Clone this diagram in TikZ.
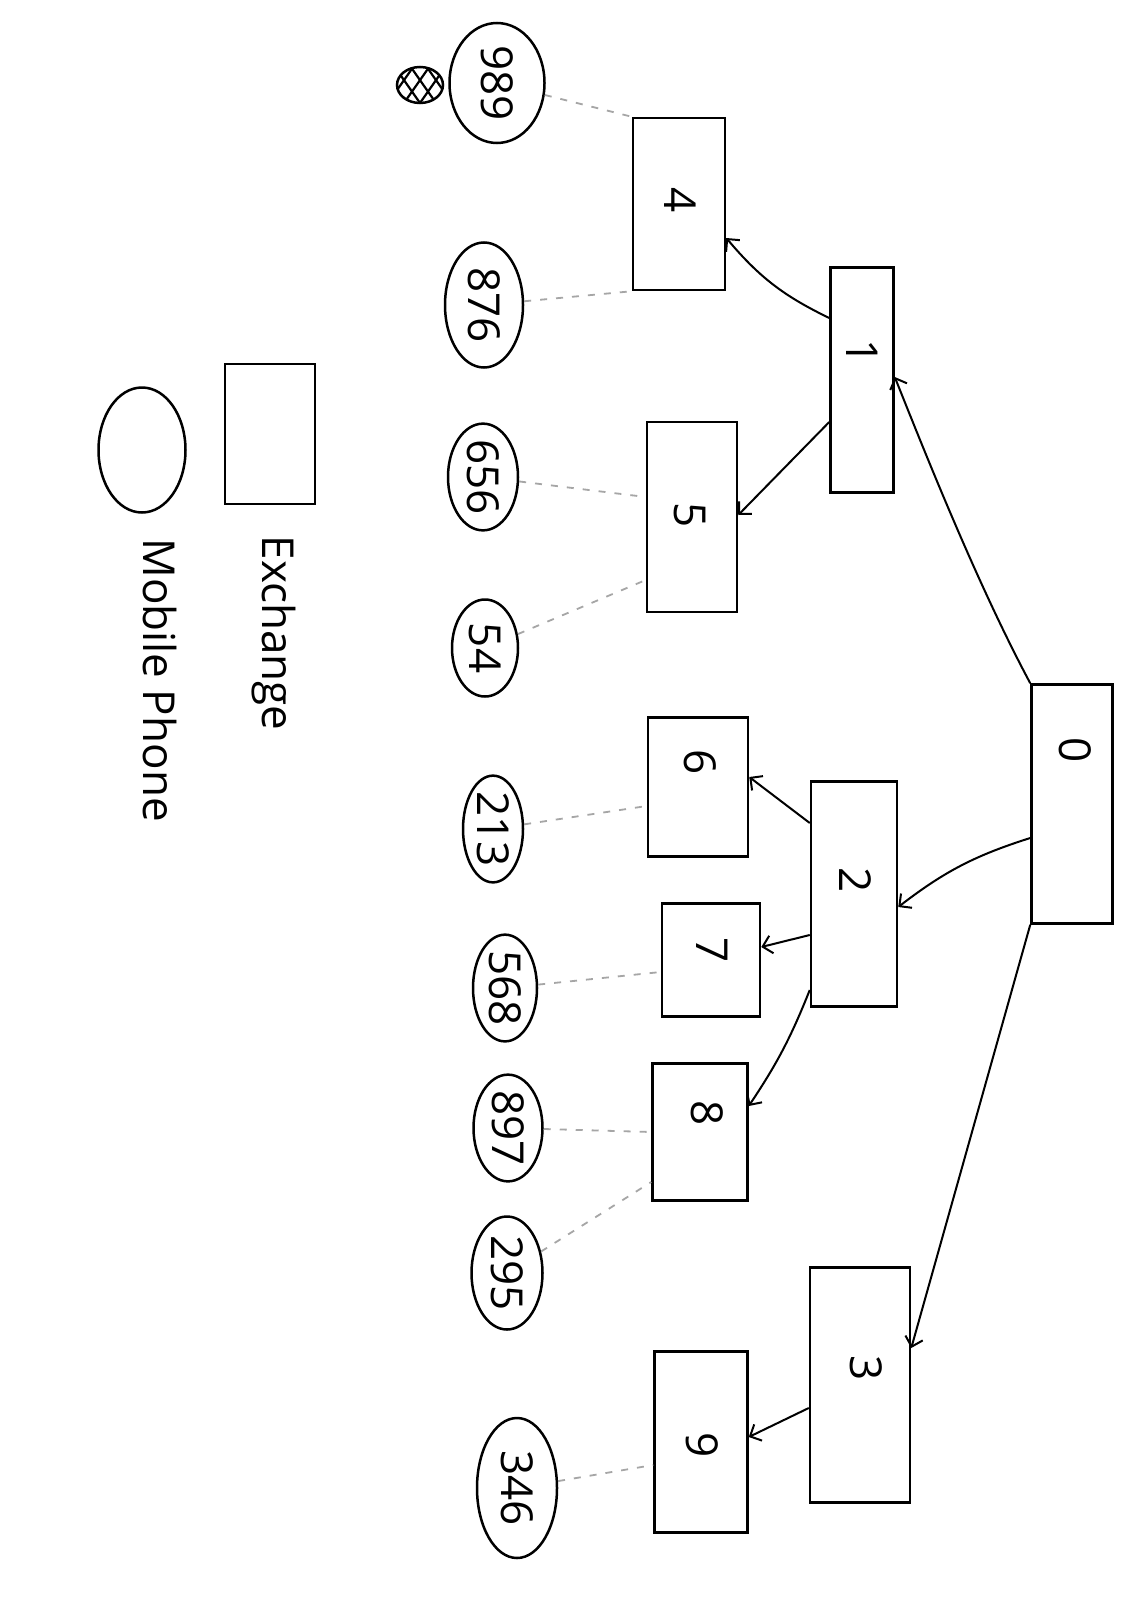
\documentclass[tikz,border=0pt]{standalone}
\usepackage{fontspec}
\setsansfont{Open Sans}
\usetikzlibrary{shapes.geometric,arrows.meta,calc}
\newcommand\rotlab[1]{\rotatebox{-90}{#1}}
\begin{document}
\begin{tikzpicture}[x=1pt,y=-1pt,line width=2.5pt,
  font=\sffamily\fontsize{44}{50}\selectfont,
  ex/.style={draw,rectangle,inner sep=0pt,line width=2.5pt},
  ph/.style={draw,ellipse,inner sep=0pt,line width=2.5pt},
  lab/.style={inner sep=0pt},
  dsh/.style={draw=gray!70,line width=1.8pt,dash pattern=on 7pt off 9pt},
  arr/.style={-{Straight Barb[length=9pt,width=18pt,line width=2pt]},line width=2pt}]
\useasboundingbox[fill=white] (0,0) rectangle (1129,1600);

% exchanges
\node[ex,minimum width=81pt,minimum height=239pt] (e0) at (1072,804) {};
\node[ex,minimum width=63pt,minimum height=225pt] (e1) at (862,380) {};
\node[ex,minimum width=86pt,minimum height=225pt] (e2) at (854,894) {};
\node[ex,minimum width=100pt,minimum height=235pt] (e3) at (860,1385) {};
\node[ex,minimum width=92pt,minimum height=172pt] (e4) at (679,204) {};
\node[ex,minimum width=90pt,minimum height=190pt] (e5) at (692,517) {};
\node[ex,minimum width=100pt,minimum height=139pt] (e6) at (698,787) {};
\node[ex,minimum width=98pt,minimum height=113pt] (e7) at (711,960) {};
\node[ex,minimum width=95pt,minimum height=137pt] (e8) at (700,1132) {};
\node[ex,minimum width=93pt,minimum height=181pt] (e9) at (701,1442) {};

% exchange labels
\node[lab] (l0) at (1075,750) {\rotlab{0}};
\node[lab] (l1) at (862,352) {\rotlab{1}};
\node[lab] (l2) at (855,880) {\rotlab{2}};
\node[lab] (l3) at (866,1368) {\rotlab{3}};
\node[lab] (l4) at (680,200) {\rotlab{4}};
\node[lab] (l5) at (690,515) {\rotlab{5}};
\node[lab] (l6) at (700,762) {\rotlab{6}};
\node[lab] (l7) at (712,950) {\rotlab{7}};
\node[lab] (l8) at (707,1113) {\rotlab{8}};
\node[lab] (l9) at (702,1445) {\rotlab{9}};

% phones
\node[ph,minimum width=95pt,minimum height=120pt] (p989) at (497,83) {\rotlab{989}};
\node[ph,minimum width=78pt,minimum height=125pt] (p876) at (484,305) {\rotlab{876}};
\node[ph,minimum width=70pt,minimum height=99pt] (p656) at (483,477) {\rotlab{656}};
\node[ph,minimum width=66pt,minimum height=97pt] (p54) at (485,648) {\rotlab{54}};
\node[ph,minimum width=60pt,minimum height=95pt] (p213) at (493,829) {\rotlab{213}};
\node[ph,minimum width=64pt,minimum height=99pt] (p568) at (505,988) {\rotlab{568}};
\node[ph,minimum width=69pt,minimum height=93pt] (p897) at (508,1128) {\rotlab{897}};
\node[ph,minimum width=71pt,minimum height=113pt] (p295) at (507,1273) {\rotlab{295}};
\node[ph,minimum width=80pt,minimum height=140pt] (p346) at (517,1488) {\rotlab{346}};

% hatched mark
\node[ph,minimum width=46pt,minimum height=36pt,
  path picture={
    \foreach \k in {-48,-32,...,48}{
      \draw[line width=2.2pt] ([xshift=\k pt]path picture bounding box.south) -- ++(28,-40);
      \draw[line width=2.2pt] ([xshift=\k pt]path picture bounding box.south) -- ++(-28,-40);
    }}] (hatch) at (420,85) {};

% legend
\node[ex,minimum width=90pt,minimum height=140pt] (legex) at (270,434) {};
\node[ph,minimum width=87pt,minimum height=125pt] (legph) at (142,450) {};
\node[lab] (legext) at (274,633) {\rotlab{Exchange}};
\node[lab] (legmpt) at (160,680) {\rotlab{Mobile Phone}};

% dashed phone links
\draw[dsh] (p989) -- (e4.north west);
\draw[dsh] (p876) -- (e4.south west);
\draw[dsh] (p656) -- ([yshift=20pt]e5.west);
\draw[dsh] (p54) -- ([yshift=-63pt]e5.west);
\draw[dsh] (p213) -- ([yshift=-19pt]e6.west);
\draw[dsh] (p568) -- ([yshift=-12pt]e7.west);
\draw[dsh] (p897) -- (e8.west);
\draw[dsh] (p295) -- ([yshift=-50pt]e8.west);
\draw[dsh] (p346) -- ([yshift=-23pt]e9.west);

% exchange arrows
\draw[arr] ([yshift=62pt]e1.west) to[bend left=12] ([yshift=-34pt]e4.east);
\draw[arr] ([yshift=-42pt]e1.west) -- ([yshift=2pt]e5.east);
\draw[arr] (e0.north west) .. controls (975,580) and (920,440) .. ([yshift=3pt]e1.east);
\draw[arr] ([yshift=-34pt]e0.west) to[bend right=10] ([yshift=-13pt]e2.east);
\draw[arr] (e0.south west) -- ([yshift=37pt]e3.east);
\draw[arr] ([yshift=71pt]e2.west) -- ([yshift=10pt]e6.east);
\draw[arr] ([yshift=-41pt]e2.west) -- ([yshift=13pt]e7.east);
\draw[arr] ([yshift=-96pt]e2.west) to[bend left=6] ([yshift=26pt]e8.east);
\draw[arr] ([yshift=-23pt]e3.west) -- ([yshift=5pt]e9.east);
\end{tikzpicture}
\end{document}
